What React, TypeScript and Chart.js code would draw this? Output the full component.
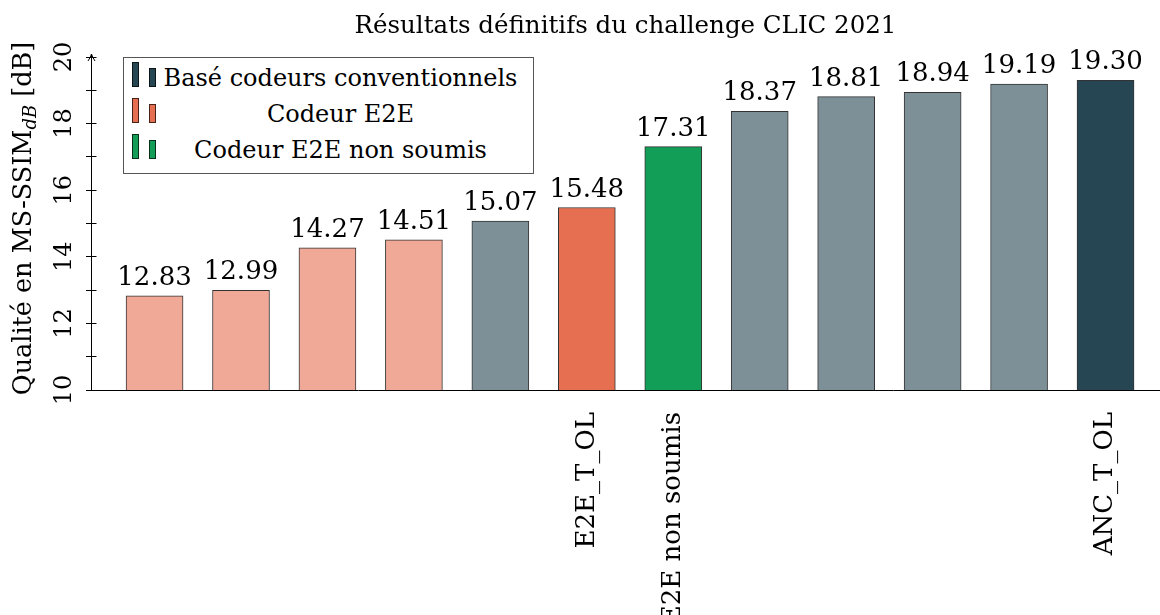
import React, { useEffect, useRef } from 'react';
import { Chart, registerables } from 'chart.js';

Chart.register(...registerables);

// ---- data ----
const xLabels = ['', '', '', '', '', 'E2E_T_OL', 'E2E non soumis', '', '', '', '', 'ANC_T_OL'];
const values = [12.83, 12.99, 14.27, 14.51, 15.07, 15.48, 17.31, 18.37, 18.81, 18.94, 19.19, 19.3];
const groups = ['e2e', 'e2e', 'e2e', 'e2e', 'conv', 'e2e', 'nonsub', 'conv', 'conv', 'conv', 'conv', 'conv'];
const highlighted = [false, false, false, false, false, true, true, false, false, false, false, true];
const yTickLabels = [10, 12, 14, 16, 18, 20];
const titleText = 'Résultats définitifs du challenge CLIC 2021';
const yTitleMain = 'Qualité en MS-SSIM';
const yTitleSub = 'dB';
const yTitleUnit = ' [dB]';
const legendLabels = ['Basé codeurs conventionnels', 'Codeur E2E', 'Codeur E2E non soumis'];
const legendKeys = ['conv', 'e2e', 'nonsub'];

// ---- style ----
const FONT = '"DejaVu Serif"';
const strongColors: Record<string, string> = { conv: '#264653', e2e: '#E76F51', nonsub: '#129E56' };
const lightColors: Record<string, string> = { conv: '#7D9098', e2e: '#F1A997', nonsub: '#129E56' };
const barColors = groups.map((g, i) => (highlighted[i] ? strongColors[g] : lightColors[g]));

const decorPlugin = {
  id: 'decor',
  afterDraw(chart: any) {
    const { ctx, chartArea, scales } = chart;
    const y = scales.y;
    ctx.save();
    ctx.strokeStyle = '#000';
    ctx.lineWidth = 1;
    const ax = Math.round(chartArea.left - 0.5) + 0.5;
    // inward tick marks
    y.ticks.forEach((t: any) => {
      const py = Math.round(y.getPixelForValue(t.value) - 0.5) + 0.5;
      ctx.beginPath();
      ctx.moveTo(ax, py);
      ctx.lineTo(ax + 5, py);
      ctx.stroke();
    });
    // arrow head on y axis
    const top = chartArea.top;
    ctx.beginPath();
    ctx.moveTo(ax, top);
    ctx.lineTo(ax, top - 3);
    ctx.stroke();
    ctx.beginPath();
    ctx.moveTo(ax - 3.5, top + 4);
    ctx.quadraticCurveTo(ax - 0.5, top - 0.5, ax, top - 3);
    ctx.quadraticCurveTo(ax + 0.5, top - 0.5, ax + 3.5, top + 4);
    ctx.stroke();

    // value labels
    const meta = chart.getDatasetMeta(0);
    ctx.fillStyle = '#000';
    ctx.font = `26px ${FONT}`;
    ctx.textAlign = 'center';
    ctx.textBaseline = 'alphabetic';
    meta.data.forEach((el: any, i: number) => {
      ctx.fillText(values[i].toFixed(2), el.x, el.y - 11);
    });

    // y axis title with subscript
    const f1 = `25.5px ${FONT}`;
    const f2 = `italic 18px ${FONT}`;
    const parts = [
      { t: yTitleMain, f: f1, dy: 0 },
      { t: yTitleSub, f: f2, dy: 5 },
      { t: yTitleUnit, f: f1, dy: 0 },
    ];
    let total = 0;
    const widths = parts.map((p) => {
      ctx.font = p.f;
      const w = ctx.measureText(p.t).width;
      total += w;
      return w;
    });
    ctx.translate(31, 218.5);
    ctx.rotate(-Math.PI / 2);
    ctx.textAlign = 'left';
    let x0 = -total / 2;
    parts.forEach((p, i) => {
      ctx.font = p.f;
      ctx.fillText(p.t, x0, p.dy);
      x0 += widths[i];
    });
    ctx.restore();
  },
};

export default function App() {
  const ref = useRef<HTMLCanvasElement | null>(null);

  useEffect(() => {
    if (!ref.current) return;
    const chart = new Chart(ref.current, {
      type: 'bar',
      data: {
        datasets: [
          {
            data: values.map((v, i) => ({ x: i, y: v })) as any,
            backgroundColor: barColors,
            borderColor: 'rgba(0,0,0,0.8)',
            borderWidth: 1,
            barThickness: 57,
            borderSkipped: 'start',
          },
        ],
      },
      options: {
        animation: false,
        responsive: false,
        layout: { padding: 0 },
        plugins: {
          legend: { display: false },
          tooltip: { enabled: false },
          title: {
            display: true,
            text: titleText,
            fullSize: false,
            color: '#000',
            font: { family: FONT, size: 24.5, weight: 'normal' },
            padding: { top: 12, bottom: 15.6 },
          },
        },
        scales: {
          x: {
            type: 'linear',
            offset: false,
            min: -0.735,
            max: 11.63,
            afterBuildTicks: (s: any) => {
              s.ticks = xLabels.map((_, i) => ({ value: i }));
            },
            afterFit: (s: any) => {
              s.height = 225;
            },
            grid: { display: false, drawTicks: false, offset: false },
            border: { display: true, color: '#000', width: 1 },
            ticks: {
              autoSkip: false,
              minRotation: 90,
              maxRotation: 90,
              padding: 22,
              color: '#000',
              font: { family: FONT, size: 26 },
              callback: (v: any) => xLabels[v] ?? '',
            },
          },
          y: {
            type: 'linear',
            min: 10,
            max: 20,
            afterFit: (s: any) => {
              s.width = 91;
            },
            grid: { drawOnChartArea: false, drawTicks: true, tickLength: 5, color: '#000', lineWidth: 1 },
            border: { display: true, color: '#000', width: 1 },
            ticks: {
              stepSize: 1,
              autoSkip: false,
              minRotation: 90,
              maxRotation: 90,
              crossAlign: 'center',
              padding: 6,
              color: '#000',
              font: { family: FONT, size: 24 },
              callback: (v: any) => (yTickLabels.includes(v) ? String(v) : ''),
            },
          },
        },
      } as any,
      plugins: [decorPlugin],
    });
    return () => chart.destroy();
  }, []);

  const rowBaselines = [86.7, 122.7, 158.5];
  return (
    <div style={{ position: 'absolute', left: 0, top: 0, width: 1160, height: 615, background: '#fff' }}>
      <canvas ref={ref} width={1160} height={615} style={{ display: 'block' }} />
      <div
        style={{
          position: 'absolute',
          left: 123,
          top: 57,
          width: 411,
          height: 117,
          boxSizing: 'border-box',
          border: '1px solid #555',
          background: '#fff',
        }}
      />
      {legendLabels.map((lab, i) => {
        const base = rowBaselines[i];
        const c = strongColors[legendKeys[i]];
        return (
          <React.Fragment key={lab}>
            <div
              style={{
                position: 'absolute',
                left: 131.5,
                top: base - 24.5,
                width: 7,
                height: 24.5,
                boxSizing: 'border-box',
                background: c,
                border: '1px solid rgba(0,0,0,0.7)',
              }}
            />
            <div
              style={{
                position: 'absolute',
                left: 148.5,
                top: base - 18.5,
                width: 7,
                height: 18.5,
                boxSizing: 'border-box',
                background: c,
                border: '1px solid rgba(0,0,0,0.7)',
              }}
            />
            <div
              style={{
                position: 'absolute',
                left: 150.5,
                width: 380,
                top: base - 23.3,
                height: 30,
                lineHeight: '30px',
                fontFamily: FONT,
                fontSize: 24,
                textAlign: 'center',
                whiteSpace: 'nowrap',
                color: '#000',
              }}
            >
              {lab}
            </div>
          </React.Fragment>
        );
      })}
    </div>
  );
}
